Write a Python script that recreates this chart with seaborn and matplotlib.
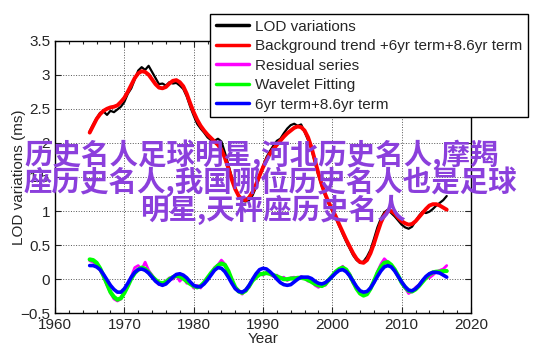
import numpy as np
import pandas as pd
import matplotlib
matplotlib.use('Agg')
import matplotlib.pyplot as plt
import seaborn as sns
from matplotlib.ticker import MultipleLocator, FuncFormatter

# years, half-year steps 1965 - 2016.5
years = np.arange(1965, 2017, 0.5)

# LOD variations (black)
lod = [2.17, 2.27, 2.36, 2.44, 2.46, 2.41, 2.47, 2.45, 2.49, 2.53,
       2.60, 2.72, 2.80, 2.93, 3.06, 3.11, 3.07, 3.13, 3.04, 2.95,
       2.86, 2.87, 2.84, 2.89, 2.87, 2.88, 2.84, 2.79, 2.68, 2.53,
       2.40, 2.28, 2.21, 2.15, 2.08, 2.04, 2.03, 2.06, 2.02, 1.86,
       1.68, 1.50, 1.34, 1.21, 1.15, 1.14, 1.16, 1.23, 1.35, 1.50,
       1.66, 1.79, 1.88, 1.96, 2.03, 2.06, 2.14, 2.21, 2.26, 2.28,
       2.25, 2.27, 2.16, 2.04, 1.90, 1.71, 1.52, 1.36, 1.22, 1.10,
       1.00, 0.89, 0.78, 0.66, 0.55, 0.45, 0.35, 0.28, 0.24, 0.26,
       0.33, 0.43, 0.59, 0.76, 0.89, 0.98, 1.02, 0.97, 0.92, 0.86,
       0.80, 0.76, 0.74, 0.77, 0.85, 0.93, 0.99, 0.97, 0.99, 1.03,
       1.08, 1.12, 1.16, 1.22]

# background trend + 6yr + 8.6yr (red)
trend = [2.15, 2.25, 2.35, 2.42, 2.47, 2.50, 2.52, 2.53, 2.55, 2.60,
         2.66, 2.75, 2.85, 2.95, 3.02, 3.05, 3.04, 3.00, 2.93, 2.86,
         2.81, 2.80, 2.82, 2.87, 2.91, 2.92, 2.89, 2.83, 2.72, 2.58,
         2.45, 2.34, 2.25, 2.18, 2.12, 2.07, 2.02, 1.97, 1.90, 1.78,
         1.63, 1.46, 1.32, 1.22, 1.17, 1.16, 1.20, 1.28, 1.39, 1.52,
         1.64, 1.75, 1.84, 1.91, 1.97, 2.03, 2.09, 2.14, 2.18, 2.22,
         2.24, 2.23, 2.18, 2.08, 1.93, 1.74, 1.55, 1.38, 1.24, 1.12,
         1.02, 0.92, 0.80, 0.69, 0.58, 0.48, 0.38, 0.30, 0.25, 0.24,
         0.28, 0.38, 0.52, 0.68, 0.83, 0.94, 1.00, 1.00, 0.96, 0.90,
         0.85, 0.82, 0.80, 0.81, 0.85, 0.91, 0.97, 1.03, 1.08, 1.10,
         1.10, 1.08, 1.05, 1.02]

# residual series (magenta)
residual = [0.27, 0.25, 0.22, 0.13, 0.04, -0.09, -0.20, -0.29, -0.32, -0.29,
            -0.18, -0.08, 0.04, 0.17, 0.20, 0.14, 0.25, 0.13, 0.06, -0.02,
            -0.08, -0.07, -0.03, 0.02, 0.00, 0.06, -0.03, 0.03, -0.06, -0.05,
            -0.13, -0.09, -0.13, -0.04, 0.03, 0.07, 0.17, 0.21, 0.28, 0.22,
            0.10, 0.01, -0.14, -0.16, -0.22, -0.15, -0.12, 0.00, 0.02, 0.09,
            0.06, 0.10, 0.07, 0.04, 0.06, 0.01, 0.03, -0.02, 0.02, 0.03,
            0.00, 0.04, 0.02, -0.03, -0.02, -0.09, -0.12, -0.08, -0.09, 0.00,
            0.04, 0.12, 0.14, 0.19, 0.12, 0.08, -0.06, -0.12, -0.18, -0.22,
            -0.20, -0.12, -0.05, 0.11, 0.22, 0.30, 0.25, 0.19, 0.15, 0.03,
            -0.06, -0.13, -0.21, -0.18, -0.12, -0.08, -0.02, 0.03, 0.02, 0.06,
            0.11, 0.13, 0.15, 0.20]

# wavelet fitting (green)
wavelet = [0.29, 0.28, 0.24, 0.16, 0.05, -0.07, -0.19, -0.26, -0.30, -0.28,
           -0.20, -0.10, 0.01, 0.09, 0.14, 0.17, 0.15, 0.10, 0.04, -0.01,
           -0.05, -0.06, -0.04, 0.00, 0.03, 0.05, 0.04, 0.01, -0.03, -0.07,
           -0.10, -0.12, -0.10, -0.05, 0.02, 0.09, 0.15, 0.20, 0.23, 0.21,
           0.12, -0.01, -0.12, -0.18, -0.20, -0.17, -0.10, -0.02, 0.03, 0.07,
           0.08, 0.09, 0.08, 0.06, 0.04, 0.02, 0.00, 0.00, 0.01, 0.01,
           0.02, 0.02, 0.01, -0.01, -0.04, -0.07, -0.09, -0.10, -0.07, -0.01,
           0.05, 0.11, 0.15, 0.17, 0.14, 0.06, -0.04, -0.14, -0.21, -0.24,
           -0.22, -0.14, -0.03, 0.09, 0.18, 0.24, 0.25, 0.21, 0.14, 0.05,
           -0.05, -0.12, -0.17, -0.18, -0.15, -0.10, -0.04, 0.02, 0.07, 0.10,
           0.11, 0.11, 0.12, 0.12]

# 6yr term + 8.6yr term (blue)
terms = [0.20, 0.20, 0.18, 0.14, 0.07, -0.01, -0.09, -0.15, -0.19, -0.19,
         -0.14, -0.06, 0.03, 0.10, 0.14, 0.15, 0.13, 0.09, 0.03, -0.03,
         -0.07, -0.09, -0.07, -0.02, 0.03, 0.07, 0.08, 0.06, 0.02, -0.04,
         -0.09, -0.11, -0.11, -0.07, -0.01, 0.06, 0.13, 0.17, 0.16, 0.11,
         0.03, -0.06, -0.14, -0.18, -0.19, -0.16, -0.09, 0.00, 0.08, 0.14,
         0.16, 0.15, 0.11, 0.06, 0.00, -0.05, -0.08, -0.09, -0.08, -0.04,
         0.00, 0.03, 0.03, 0.03, 0.01, -0.03, -0.06, -0.07, -0.05, -0.01,
         0.04, 0.09, 0.13, 0.14, 0.11, 0.05, -0.03, -0.11, -0.17, -0.19,
         -0.18, -0.13, -0.05, 0.04, 0.12, 0.18, 0.20, 0.18, 0.12, 0.04,
         -0.04, -0.11, -0.16, -0.17, -0.14, -0.09, -0.02, 0.04, 0.08, 0.10,
         0.10, 0.09, 0.06, 0.03]

labels = ['LOD variations', 'Background trend +6yr term+8.6yr term',
          'Residual series', 'Wavelet Fitting', '6yr term+8.6yr term']

overlay = ['历史名人足球明星,河北历史名人,摩羯',
           '座历史名人,我国哪位历史名人也是足球',
           '明星,天秤座历史名人']

sns.set_style('ticks')
plt.rcParams['font.family'] = ['Liberation Sans', 'DejaVu Sans']

fig = plt.figure(figsize=(5.42, 3.56), dpi=100)
ax = fig.add_axes([0.1015, 0.12, 0.7675, 0.766])

series = [(lod, 'black', 1.6), (trend, 'red', 2.8), (residual, 'magenta', 2.0),
          (wavelet, 'lime', 3.0), (terms, 'blue', 2.6)]
for (vals, col, lw), lab in zip(series, labels):
    sns.lineplot(x=years, y=vals, color=col, linewidth=lw, label=lab, ax=ax,
                 legend=False)

ax.set_xlim(1960, 2020)
ax.set_ylim(-0.5, 3.5)
ax.xaxis.set_major_locator(MultipleLocator(10))
ax.xaxis.set_minor_locator(MultipleLocator(2))
ax.yaxis.set_major_locator(MultipleLocator(0.5))
ax.yaxis.set_major_formatter(FuncFormatter(lambda v, p: ('%g' % v).replace('-', '−')))
ax.tick_params(which='both', direction='in', top=True, right=True,
               labelsize=11, width=0.8)
ax.tick_params(which='major', length=4)
ax.tick_params(which='minor', length=2)
ax.grid(True, which='major', linestyle=':', color='#555555', linewidth=0.7)
for s in ax.spines.values():
    s.set_linewidth(1.0)
    s.set_color('black')
ax.set_xlabel('Year', fontsize=11, labelpad=0)
ax.set_ylabel('LOD variations (ms)', fontsize=11)
ax.yaxis.set_label_coords(-0.07, 0.5)

handles, labs = ax.get_legend_handles_labels()
leg = fig.legend(handles, labs, loc='upper left', bbox_to_anchor=(0.387, 0.961),
                 fontsize=11, frameon=True, fancybox=False, handlelength=2.2,
                 handletextpad=0.4, labelspacing=0.36, borderpad=0.38,
                 borderaxespad=0)
leg.get_frame().set_edgecolor('black')
leg.get_frame().set_linewidth(1.0)
leg.get_frame().set_alpha(1)
for h in leg.get_lines():
    h.set_linewidth(2.5)

purple = '#8b3fdc'
cjk = ['Noto Sans CJK SC', 'DejaVu Sans']
fig.text(24 / 542, 1 - 155 / 356, overlay[0], color=purple, fontsize=20.5,
         fontweight='bold', family=cjk, ha='left', va='center')
fig.text(24 / 542, 1 - 182 / 356, overlay[1], color=purple, fontsize=20.5,
         fontweight='bold', family=cjk, ha='left', va='center')
fig.text(273 / 542, 1 - 210 / 356, overlay[2], color=purple, fontsize=20.5,
         fontweight='bold', family=cjk, ha='center', va='center')

fig.savefig('out.png', dpi=100)
